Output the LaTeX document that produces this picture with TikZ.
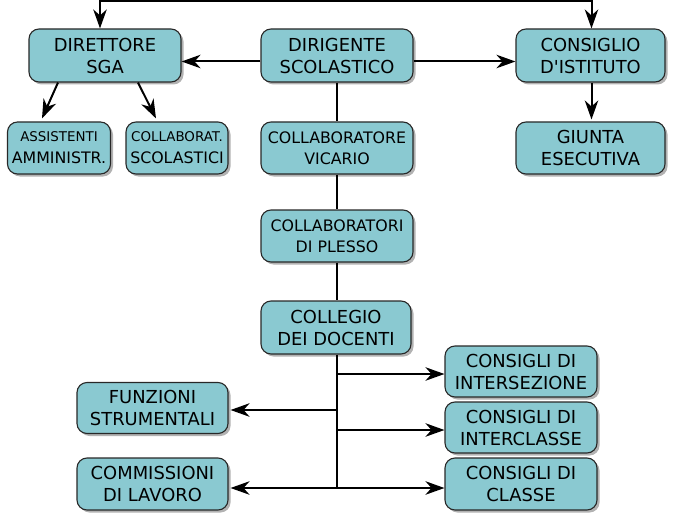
\documentclass[tikz,border=0pt]{standalone}
\usepackage{fontspec}
\setmainfont{DejaVu Sans}
\usetikzlibrary{arrows.meta,shadows,calc}
\definecolor{boxfill}{RGB}{138,201,209}
\definecolor{boxline}{RGB}{40,40,40}
\tikzset{
  orgbox/.style={draw=boxline, line width=1.1pt, fill=boxfill, rounded corners=10pt,
    align=center, inner sep=0pt, font=\fontsize{17.9}{22}\selectfont,
    drop shadow={shadow xshift=2.5pt, shadow yshift=-2.5pt, fill=black, opacity=0.3}},
  conn/.style={line width=2pt, draw=black},
  tipA/.tip={Stealth[length=19pt, width=13.5pt, inset=6pt]},
  arr/.style={conn, -tipA},
  darr/.style={conn, tipA-tipA}
}
\newcommand{\smallA}{\fontsize{13.4}{18}\selectfont}
\newcommand{\smallB}{\fontsize{15.8}{20}\selectfont}
\begin{document}
\begin{tikzpicture}[x=1pt,y=-1pt]
\useasboundingbox (0,0) rectangle (682,516);
% top row
\node[orgbox, minimum width=152pt, minimum height=53pt] (dsga) at (105,55.5) {DIRETTORE\\SGA};
\node[orgbox, minimum width=152pt, minimum height=53pt] (dir) at (337,55.5) {DIRIGENTE\\SCOLASTICO};
\node[orgbox, minimum width=149pt, minimum height=53pt] (cons) at (590.5,55.5) {CONSIGLIO\\D\textquotesingle ISTITUTO};
% second row
\node[orgbox, minimum width=103pt, minimum height=52pt] (ass) at (59,148) {{\smallA ASSISTENTI}\\{\smallB AMMINISTR.}};
\node[orgbox, minimum width=102pt, minimum height=52pt] (col) at (177,148) {{\smallA COLLABORAT.}\\{\smallB SCOLASTICI}};
\node[orgbox, minimum width=152pt, minimum height=52pt, font=\fontsize{15.8}{21}\selectfont] (vic) at (337,148) {COLLABORATORE\\VICARIO};
\node[orgbox, minimum width=149pt, minimum height=52pt] (giu) at (590.5,148) {GIUNTA\\ESECUTIVA};
% trunk boxes
\node[orgbox, minimum width=152pt, minimum height=52pt, font=\fontsize{15.8}{21}\selectfont] (ple) at (337,236) {COLLABORATORI\\DI PLESSO};
\node[orgbox, minimum width=150pt, minimum height=53pt] (cdoc) at (336,327.5) {COLLEGIO\\DEI DOCENTI};
% lower boxes
\node[orgbox, minimum width=152pt, minimum height=51pt] (inters) at (521,371.5) {CONSIGLI DI\\INTERSEZIONE};
\node[orgbox, minimum width=152pt, minimum height=51pt] (intercl) at (521,427.5) {CONSIGLI DI\\INTERCLASSE};
\node[orgbox, minimum width=152pt, minimum height=52pt] (classe) at (521,484) {CONSIGLI DI\\CLASSE};
\node[orgbox, minimum width=151pt, minimum height=51pt] (funz) at (152.5,408) {FUNZIONI\\STRUMENTALI};
\node[orgbox, minimum width=151pt, minimum height=52pt] (comm) at (152.5,484) {COMMISSIONI\\DI LAVORO};
% coordinates
\coordinate (topL) at (100,1.2);
\coordinate (topR) at (591.5,1.2);
\coordinate (b1) at (337,374);
\coordinate (b2) at (337,410);
\coordinate (b3) at (337,430);
\coordinate (b4) at (337,488);
% connectors
\draw[darr] ([xshift=-5pt]dsga.north) -- (topL) -- (topR) -- ([xshift=1pt]cons.north);
\draw[arr] ([yshift=-6pt]dir.west) -- ([yshift=-6pt]dsga.east);
\draw[arr] ([yshift=-6pt]dir.east) -- ([yshift=-6pt]cons.west);
\draw[arr] ([xshift=-47pt]dsga.south) -- ([xshift=-17pt,yshift=3pt]ass.north);
\draw[arr] ([xshift=33pt]dsga.south) -- ([xshift=-21pt,yshift=3pt]col.north);
\draw[arr] ([xshift=1pt]cons.south) -- ([xshift=1pt,yshift=2pt]giu.north);
\draw[conn] (dir.south) -- (vic.north);
\draw[conn] (vic.south) -- (ple.north);
\draw[conn] (ple.south) -- (ple.south |- cdoc.north);
\draw[conn] (cdoc.south -| b4) -- (b4);
\draw[arr] (b1) -- (b1 -| inters.west);
\draw[arr] (b2) -- ([xshift=2pt]b2 -| funz.east);
\draw[arr] (b3) -- (b3 -| intercl.west);
\draw[darr] ([xshift=2pt]b4 -| comm.east) -- (b4 -| classe.west);
\end{tikzpicture}
\end{document}
